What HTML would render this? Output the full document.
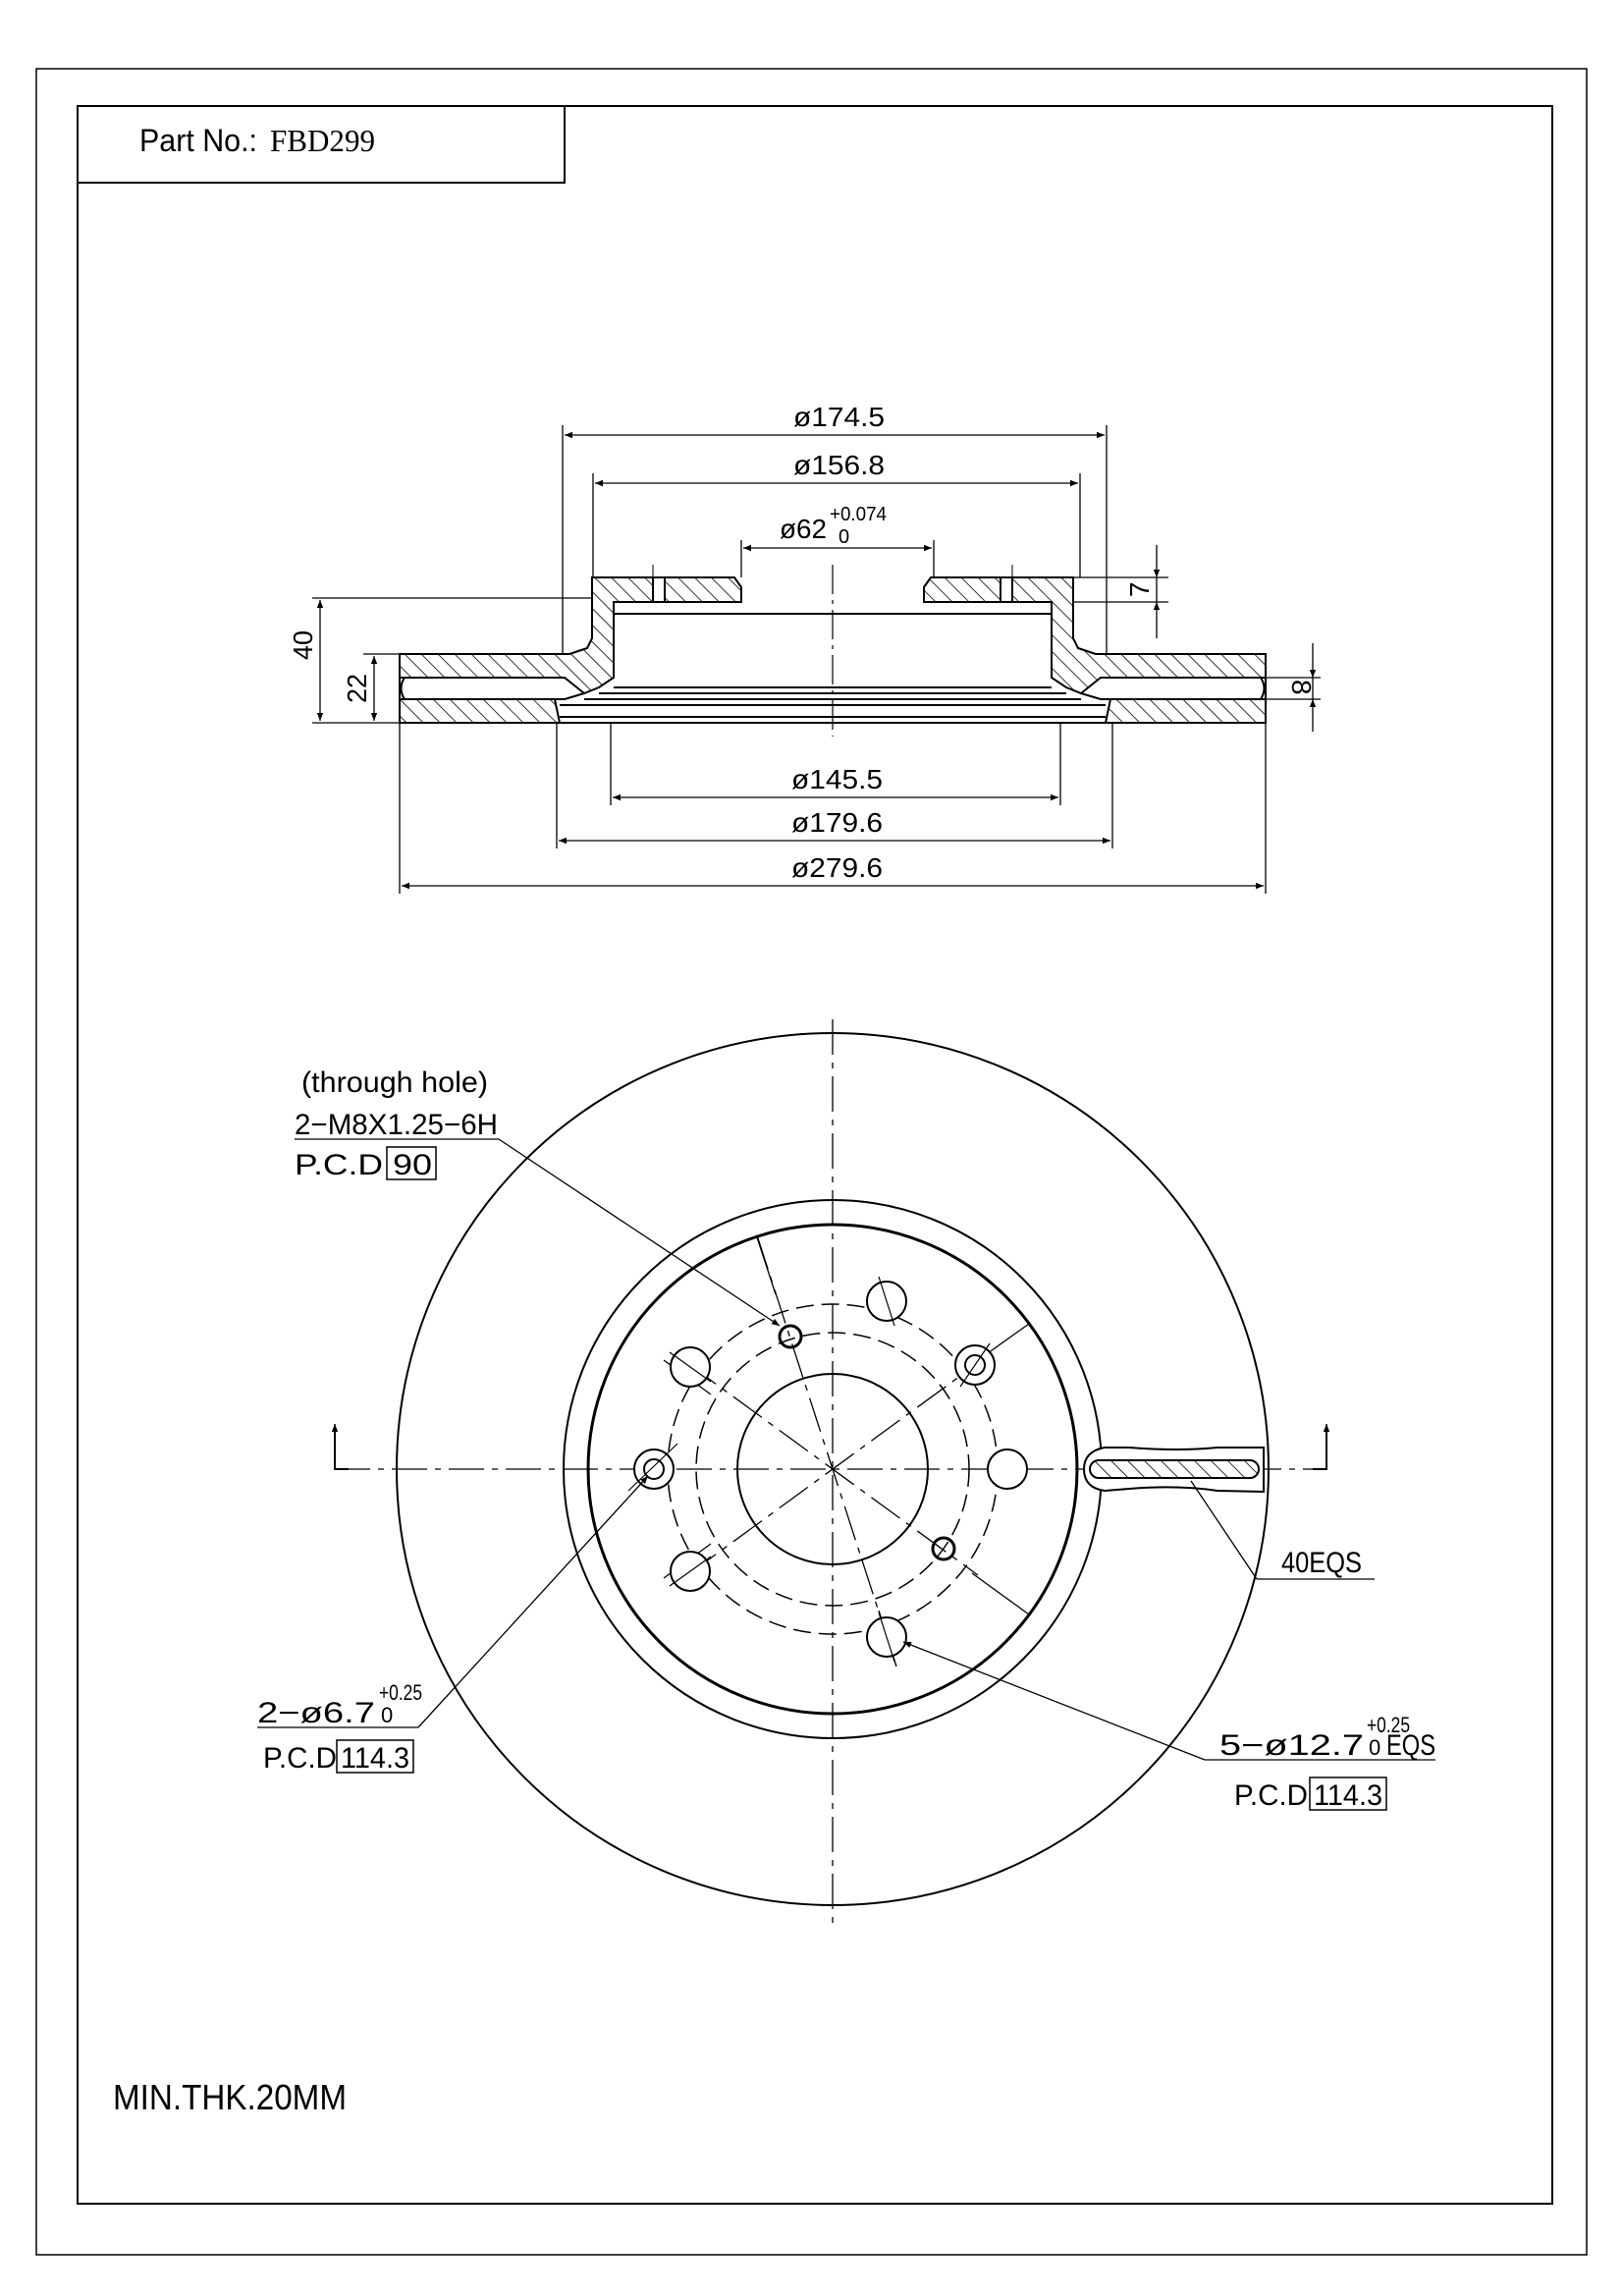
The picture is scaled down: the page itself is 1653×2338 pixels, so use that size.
<!DOCTYPE html>
<html><head><meta charset="utf-8"><style>html,body{margin:0;padding:0;background:#fff}svg{display:block}</style></head>
<body>
<svg width="1653" height="2338" viewBox="0 0 1653 2338" xmlns="http://www.w3.org/2000/svg" font-family="Liberation Sans, sans-serif" fill="none" stroke="#000">
<defs>
<pattern id="h" patternUnits="userSpaceOnUse" width="12" height="12" patternTransform="rotate(-45)">
<line x1="0" y1="0" x2="0" y2="12" stroke="#000" stroke-width="1.6"/>
</pattern>
<marker id="a" viewBox="0 0 10 10" refX="10" refY="5" markerWidth="14" markerHeight="8" orient="auto-start-reverse" markerUnits="userSpaceOnUse"><path d="M0,1 L10,5 L0,9 z" fill="#000" stroke="none"/></marker>
</defs>
<rect x="37" y="70" width="1579" height="2226" stroke-width="1.5"/>
<rect x="79" y="108" width="1502" height="2136" stroke-width="2"/>
<rect x="79" y="108" width="496" height="78" stroke-width="2"/>
<g fill="#000" stroke="none">
<text x="142" y="154" font-size="32" textLength="120" lengthAdjust="spacingAndGlyphs">Part No.:</text>
<text x="275" y="154" font-size="32" font-family="Liberation Serif, serif" textLength="107" lengthAdjust="spacingAndGlyphs">FBD299</text>
</g>

<g stroke-width="2">
<g fill="url(#h)">
<path d="M603,588 L748,588 L755,598 L755,613 L625,613 L625,690 L610,700 L595,706 L575,690 L407,690 L407,666 L580,666 L598,660 L603,650 Z"/>
<path d="M1093,588 L948,588 L941,598 L941,613 L1071,613 L1071,690 L1086,700 L1101,706 L1121,690 L1289,690 L1289,666 L1116,666 L1098,660 L1093,650 Z"/>
<path d="M407,712 L565,712 L570,736 L407,736 Z"/>
<path d="M1289,712 L1131,712 L1126,736 L1289,736 Z"/>
</g>
<rect x="665" y="588" width="12" height="25" fill="#fff"/>
<rect x="1019" y="588" width="12" height="25" fill="#fff"/>
<line x1="665" y1="575" x2="665" y2="613" stroke-width="1"/>
<line x1="1031" y1="575" x2="1031" y2="613" stroke-width="1"/>
<line x1="625" y1="625" x2="1071" y2="625"/>
<line x1="625" y1="700" x2="1071" y2="700"/>
<line x1="610" y1="706" x2="1086" y2="706"/>
<line x1="595" y1="712" x2="1101" y2="712"/>
<line x1="570" y1="718" x2="1126" y2="718"/>
<line x1="570" y1="730" x2="1126" y2="730"/>
<line x1="570" y1="736" x2="1126" y2="736"/>
<path d="M595,706 L575,712 L565,712"/>
<path d="M1101,706 L1121,712 L1131,712"/>
<path d="M412,690 Q405,701 412,712"/>
<path d="M1284,690 Q1291,701 1284,712"/>
<line x1="407" y1="690" x2="407" y2="712"/>
<line x1="1289" y1="690" x2="1289" y2="712"/>
</g>
<line x1="848" y1="575" x2="848" y2="750" stroke-width="1.2" stroke-dasharray="30,6,4,6"/>
<g stroke-width="1.3">
<line x1="573" y1="433" x2="573" y2="666"/><line x1="1127" y1="433" x2="1127" y2="666"/>
<line x1="575" y1="443" x2="1125" y2="443" marker-start="url(#a)" marker-end="url(#a)"/>
<line x1="604" y1="482" x2="604" y2="588"/><line x1="1100" y1="482" x2="1100" y2="588"/>
<line x1="606" y1="492" x2="1098" y2="492" marker-start="url(#a)" marker-end="url(#a)"/>
<line x1="755" y1="550" x2="755" y2="588"/><line x1="951" y1="550" x2="951" y2="588"/>
<line x1="757" y1="558" x2="949" y2="558" marker-start="url(#a)" marker-end="url(#a)"/>
<line x1="622" y1="736" x2="622" y2="820"/><line x1="1080" y1="736" x2="1080" y2="820"/>
<line x1="624" y1="812" x2="1078" y2="812" marker-start="url(#a)" marker-end="url(#a)"/>
<line x1="567" y1="736" x2="567" y2="864"/><line x1="1133" y1="736" x2="1133" y2="864"/>
<line x1="569" y1="856" x2="1131" y2="856" marker-start="url(#a)" marker-end="url(#a)"/>
<line x1="407" y1="736" x2="407" y2="910"/><line x1="1289" y1="736" x2="1289" y2="910"/>
<line x1="409" y1="902" x2="1287" y2="902" marker-start="url(#a)" marker-end="url(#a)"/>
<line x1="318" y1="609" x2="603" y2="609"/>
<line x1="318" y1="736" x2="407" y2="736"/>
<line x1="370" y1="666" x2="407" y2="666"/>
<line x1="326" y1="611" x2="326" y2="734" marker-start="url(#a)" marker-end="url(#a)"/>
<line x1="381" y1="668" x2="381" y2="734" marker-start="url(#a)" marker-end="url(#a)"/>
<line x1="1093" y1="588" x2="1190" y2="588"/>
<line x1="1093" y1="613" x2="1190" y2="613"/>
<line x1="1178" y1="555" x2="1178" y2="588" marker-end="url(#a)"/>
<line x1="1178" y1="650" x2="1178" y2="613" marker-end="url(#a)"/>
<line x1="1178" y1="588" x2="1178" y2="613"/>
<line x1="1289" y1="690" x2="1345" y2="690"/>
<line x1="1289" y1="712" x2="1345" y2="712"/>
<line x1="1337" y1="655" x2="1337" y2="690" marker-end="url(#a)"/>
<line x1="1337" y1="745" x2="1337" y2="712" marker-end="url(#a)"/>
<line x1="1337" y1="690" x2="1337" y2="712"/>
</g>
<g fill="#000" stroke="none" font-size="28">
<text x="808" y="434" textLength="93" lengthAdjust="spacingAndGlyphs">ø174.5</text>
<text x="808" y="483" textLength="93" lengthAdjust="spacingAndGlyphs">ø156.8</text>
<text x="794" y="548" textLength="48" lengthAdjust="spacingAndGlyphs">ø62</text>
<text x="845" y="530" font-size="20" textLength="58" lengthAdjust="spacingAndGlyphs">+0.074</text>
<text x="854" y="553" font-size="20">0</text>
<text x="806" y="803" textLength="93" lengthAdjust="spacingAndGlyphs">ø145.5</text>
<text x="806" y="847" textLength="93" lengthAdjust="spacingAndGlyphs">ø179.6</text>
<text x="806" y="893" textLength="93" lengthAdjust="spacingAndGlyphs">ø279.6</text>
<text transform="translate(318,672) rotate(-90)" x="0" y="0" textLength="30" lengthAdjust="spacingAndGlyphs">40</text>
<text transform="translate(373,716) rotate(-90)" x="0" y="0" textLength="30" lengthAdjust="spacingAndGlyphs">22</text>
<text transform="translate(1170,608) rotate(-90)" x="0" y="0">7</text>
<text transform="translate(1316,692) rotate(90)" x="0" y="0">8</text>
</g>

<g stroke-width="2">
<circle cx="848" cy="1496" r="444"/>
<circle cx="848" cy="1496" r="274"/>
<circle cx="848" cy="1496" r="249" stroke-width="3"/>
<circle cx="848" cy="1496" r="97"/>
</g>
<g stroke-width="1.5" stroke-dasharray="18,8">
<circle cx="848" cy="1496" r="168"/>
<circle cx="848" cy="1496" r="139"/>
</g>
<g stroke-width="1.3" stroke-dasharray="36,8,6,8">
<line x1="848" y1="1038" x2="848" y2="1960"/>
<line x1="341" y1="1496" x2="1346" y2="1496"/>
<line x1="700" y1="1388" x2="996" y2="1604"/>
<line x1="700" y1="1604" x2="996" y2="1388"/>
<line x1="771" y1="1258" x2="913" y2="1697"/>
</g>
<g stroke-width="2">
<path d="M341,1455 L341,1496 L355,1496"/>
<path d="M1351,1455 L1351,1496 L1337,1496"/>
<line x1="341" y1="1470" x2="341" y2="1450" marker-end="url(#a)" stroke-width="1.5"/>
<line x1="1351" y1="1470" x2="1351" y2="1450" marker-end="url(#a)" stroke-width="1.5"/>
</g>
<g stroke-width="1.3">
<line x1="771" y1="1260" x2="790" y2="1318"/>
<line x1="1048" y1="1348" x2="1006" y2="1378"/>
<line x1="1048" y1="1644" x2="990" y2="1602"/>
<line x1="913" y1="1697" x2="895" y2="1640"/>
<line x1="676" y1="1385" x2="724" y2="1420"/>
<line x1="676" y1="1607" x2="724" y2="1572"/>
</g>
<g stroke-width="2" fill="#fff">
<circle cx="1026" cy="1496" r="20"/>
<circle cx="903" cy="1325" r="20"/>
<circle cx="993" cy="1390" r="20"/>
<circle cx="903" cy="1667" r="20"/>
<circle cx="703" cy="1600" r="20"/>
<circle cx="703" cy="1392" r="20"/>
<circle cx="666" cy="1496" r="20"/>
</g>
<g stroke-width="2">
<circle cx="993" cy="1390" r="10"/>
<circle cx="666" cy="1496" r="10"/>
<circle cx="805" cy="1361" r="11" stroke-width="3"/>
<circle cx="961" cy="1577" r="11" stroke-width="3"/>
</g>
<g stroke-width="1.2">
<line x1="895" y1="1300" x2="911" y2="1350"/>
<line x1="895" y1="1642" x2="911" y2="1692"/>
<line x1="682" y1="1377" x2="724" y2="1407"/>
<line x1="682" y1="1615" x2="724" y2="1585"/>
<line x1="1008" y1="1368" x2="978" y2="1412"/>
<line x1="640" y1="1518" x2="690" y2="1470"/>
</g>
<g stroke-width="2">
<path d="M1125,1474 Q1104,1478 1104,1496 Q1104,1515 1125,1518 L1150,1516 Q1200,1512 1240,1518 L1287,1519 L1287,1474 L1240,1474 Q1200,1478 1150,1474 Z" fill="#fff"/>
<rect x="1110" y="1487" width="172" height="18" rx="9" fill="url(#h)"/>
</g>
<g stroke-width="1.3">
<line x1="300" y1="1160" x2="508" y2="1160"/>
<line x1="508" y1="1160" x2="794" y2="1350" marker-end="url(#a)"/>
<line x1="262" y1="1759" x2="426" y2="1759"/>
<line x1="426" y1="1759" x2="660" y2="1503" marker-end="url(#a)"/>
<line x1="1227" y1="1792" x2="1462" y2="1792"/>
<line x1="1227" y1="1792" x2="920" y2="1672" marker-end="url(#a)"/>
<line x1="1280" y1="1608" x2="1400" y2="1608"/>
<line x1="1280" y1="1608" x2="1213" y2="1508"/>
</g>
<g fill="#000" stroke="none" font-size="30">
<text x="307" y="1112" textLength="190" lengthAdjust="spacingAndGlyphs">(through hole)</text>
<text x="300" y="1155" textLength="207" lengthAdjust="spacingAndGlyphs">2−M8X1.25−6H</text>
<text x="300" y="1196" textLength="90" lengthAdjust="spacingAndGlyphs">P.C.D</text>
<text x="400" y="1196" textLength="40" lengthAdjust="spacingAndGlyphs">90</text>
<text x="262" y="1754" textLength="120" lengthAdjust="spacingAndGlyphs">2−ø6.7</text>
<text x="386" y="1731" font-size="22" textLength="44" lengthAdjust="spacingAndGlyphs">+0.25</text>
<text x="388" y="1754" font-size="22">0</text>
<text x="1242" y="1787" textLength="147" lengthAdjust="spacingAndGlyphs">5−ø12.7</text>
<text x="1392" y="1764" font-size="22" textLength="44" lengthAdjust="spacingAndGlyphs">+0.25</text>
<text x="1394" y="1787" font-size="22">0</text>
<text x="1412" y="1787" textLength="50" lengthAdjust="spacingAndGlyphs">EQS</text>
<text x="268" y="1800" textLength="75" lengthAdjust="spacingAndGlyphs">P.C.D</text>
<text x="347" y="1800" textLength="70" lengthAdjust="spacingAndGlyphs">114.3</text>
<text x="1257" y="1838" textLength="75" lengthAdjust="spacingAndGlyphs">P.C.D</text>
<text x="1338" y="1838" textLength="70" lengthAdjust="spacingAndGlyphs">114.3</text>
<text x="1305" y="1601" textLength="82" lengthAdjust="spacingAndGlyphs">40EQS</text>
<text x="115" y="2148" font-size="36" textLength="238" lengthAdjust="spacingAndGlyphs">MIN.THK.20MM</text>
</g>
<g stroke-width="1.5">
<rect x="394" y="1168" width="50" height="33"/>
<rect x="343" y="1772" width="78" height="33"/>
<rect x="1334" y="1810" width="78" height="33"/>
</g>
</svg>
</body></html>
